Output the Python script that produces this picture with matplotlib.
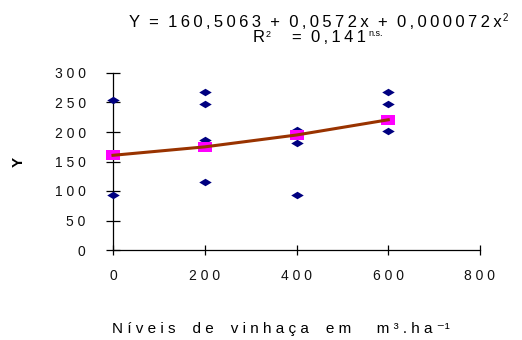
import matplotlib
matplotlib.use("Agg")
import matplotlib.pyplot as plt
from matplotlib.path import Path

plt.rcParams['font.family'] = ['Liberation Sans', 'DejaVu Sans']

# data
obs_x = [0, 0, 200, 200, 200, 200, 400, 400, 400, 600, 600, 600]
obs_y = [255, 93, 268, 247, 186, 115, 203, 181, 93, 268, 247, 202]
fit_x = [0, 200, 400, 600]
fit_y = [160.5, 174.8, 194.9, 220.7]
xticks = [0, 200, 400, 600, 800]
yticks = [0, 50, 100, 150, 200, 250, 300]


def spaced(s, sep="\u2009"):
    out = ""
    for i, c in enumerate(s):
        out += c
        if i < len(s) - 1 and c != " " and s[i + 1] != " ":
            out += sep
    return out


W, H = 522, 340
fig = plt.figure(figsize=(W/100, H/100), dpi=100)
ax = fig.add_axes([113/W, 1-250/H, 367/W, 177/H])

diamond = Path([(-1, 0), (0, 0.6), (1, 0), (0, -0.6), (-1, 0)],
               [Path.MOVETO, Path.LINETO, Path.LINETO, Path.LINETO, Path.CLOSEPOLY])
rect = Path([(-1, -0.65), (1, -0.65), (1, 0.65), (-1, 0.65), (-1, -0.65)],
            [Path.MOVETO, Path.LINETO, Path.LINETO, Path.LINETO, Path.CLOSEPOLY])

ax.plot(obs_x, obs_y, linestyle='none', marker=diamond, markersize=9,
        color='#000080', markeredgewidth=0, zorder=3, clip_on=False)
ax.plot(fit_x, fit_y, color='#993300', linewidth=2.2, zorder=4, clip_on=False)
ax.plot(fit_x, fit_y, linestyle='none', marker=rect, markersize=10,
        color='#FF00FF', markeredgewidth=0, zorder=3.5, clip_on=False)

ax.set_xlim(0, 800)
ax.set_ylim(0, 300)
ax.set_xticks(xticks)
ax.set_yticks(yticks)
ax.set_xticklabels([" ".join(str(v)) for v in xticks])
ax.set_yticklabels([" ".join(str(v)) for v in yticks])
ax.spines['top'].set_visible(False)
ax.spines['right'].set_visible(False)
for s in ('left', 'bottom'):
    ax.spines[s].set_linewidth(0.9)
    ax.spines[s].set_color('black')
ax.tick_params(axis='y', direction='inout', length=9.4, width=0.9, pad=15, labelsize=10)
ax.tick_params(axis='x', direction='inout', length=7.2, width=0.9, pad=10, labelsize=10)
for lab in ax.get_xticklabels() + ax.get_yticklabels():
    lab.set_color('#111111')

# equation, line 1
fig.text(502/W, 1-27/H, spaced("Y  =  160,5063  +  0,0572x  +  0,000072x"),
         ha='right', va='baseline', fontsize=12)
fig.text(503/W, 1-21/H, "2", ha='left', va='baseline', fontsize=7)
# equation, line 2
fig.text(253/W, 1-42/H, "R", ha='left', va='baseline', fontsize=12)
fig.text(266/W, 1-37/H, "2", ha='left', va='baseline', fontsize=6.5)
fig.text(366/W, 1-42/H, spaced("=  0,141"), ha='right', va='baseline', fontsize=12)
fig.text(368/W, 1-36/H, "n.s.", ha='left', va='baseline', fontsize=6.5)

fig.text(19/W, 1-162/H, "Y", rotation=90, ha='center', va='center',
         fontsize=11, fontweight='bold')
xl = "N í v e i s    d e    v i n h a ç a    e m      m \u00b3 . h a \u207b\u00b9"
fig.text(281/W, 1-333/H, xl, ha='center', va='baseline', fontsize=11)

fig.savefig("out.png", dpi=100)
